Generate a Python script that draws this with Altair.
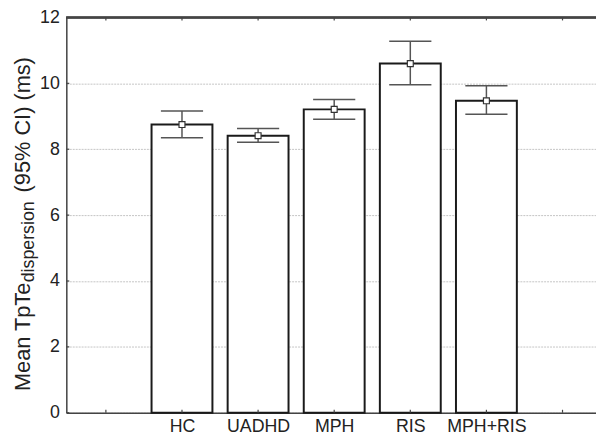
import altair as alt
import pandas as pd

# ---- data ----
groups = ["HC", "UADHD", "MPH", "RIS", "MPH+RIS"]
means = [8.75, 8.41, 9.21, 10.60, 9.47]
ci_low = [8.35, 8.21, 8.91, 9.96, 9.06]
ci_high = [9.16, 8.63, 9.51, 11.28, 9.93]
tick_labels = ["", "HC", "UADHD", "MPH", "RIS", "MPH+RIS", ""]
y_ticks = [0, 2, 4, 6, 8, 10, 12]

df = pd.DataFrame({
    "group": groups,
    "slot": list(range(1, len(groups) + 1)),
    "mean": means,
    "lo": ci_low,
    "hi": ci_high,
})
xt = pd.DataFrame({"t": [i + 0.5 for i in range(len(tick_labels))]})
yt = pd.DataFrame({"v": y_ticks})

W, H = 536, 400
FONT = "Liberation Sans"
label_arr = "[" + ",".join("'%s'" % s for s in tick_labels) + "]"

xscale = alt.Scale(domain=[-0.02, 6.94], nice=False, zero=False)
yscale = alt.Scale(domain=[0, 12], nice=False)

base = alt.Chart(df).transform_calculate(
    c="datum.slot + 0.5",
    b0="datum.slot + 0.5 - 0.40",
    b1="datum.slot + 0.5 + 0.40",
    k0="datum.slot + 0.5 - 0.277",
    k1="datum.slot + 0.5 + 0.277",
)

bars = base.mark_bar(fill="white", stroke="#1a1a1a", strokeWidth=2).encode(
    x=alt.X("b0:Q", scale=xscale,
            axis=alt.Axis(values=xt["t"].tolist(), labelExpr=label_arr + "[floor(datum.value)]",
                          title=None, ticks=False, grid=False, labelPadding=5,
                          labelFontSize=18, labelFont=FONT, labelColor="#222",
                          domainColor="#444", domainWidth=1.5)),
    x2="b1:Q",
    y=alt.Y("mean:Q", scale=yscale,
            axis=alt.Axis(values=y_ticks, title=None, ticks=False, grid=True,
                          gridColor="#c4c4c4", gridDash=[2, 1], gridWidth=1,
                          labelPadding=7, labelFontSize=18, labelFont=FONT,
                          labelColor="#222", domainColor="#444", domainWidth=1.5)),
    y2=alt.datum(0),
)

err = base.mark_rule(color="#555", strokeWidth=1.5).encode(
    x="c:Q", y="lo:Q", y2="hi:Q")
cap_hi = base.mark_rule(color="#555", strokeWidth=1.5).encode(
    x="k0:Q", x2="k1:Q", y="hi:Q")
cap_lo = base.mark_rule(color="#555", strokeWidth=1.5).encode(
    x="k0:Q", x2="k1:Q", y="lo:Q")
pts = base.mark_point(shape="square", filled=True, fill="white", stroke="#333",
                      strokeWidth=1.2, size=36, opacity=1).encode(
    x="c:Q", y="mean:Q")

top_line = alt.Chart(yt).mark_rule(color="#444", strokeWidth=1.5).encode(
    x=alt.value(0), x2=alt.value(W), y=alt.datum(12))

xt_bot = alt.Chart(xt).mark_rule(color="#444", strokeWidth=1.2).encode(
    x="t:Q", y=alt.value(H), y2=alt.value(H - 3))
xt_top = alt.Chart(xt).mark_rule(color="#444", strokeWidth=1.2).encode(
    x="t:Q", y=alt.value(0), y2=alt.value(3))
yt_left = alt.Chart(yt).mark_rule(color="#444", strokeWidth=1.2).encode(
    y="v:Q", x=alt.value(0), x2=alt.value(3))

title_main1 = alt.Chart(yt).mark_text(
    text="Mean TpTe", angle=270, align="left", baseline="alphabetic",
    font=FONT, fontSize=22, color="#222").encode(x=alt.value(-37), y=alt.value(378))
title_sub = alt.Chart(yt).mark_text(
    text="dispersion", angle=270, align="left", baseline="alphabetic",
    font=FONT, fontSize=18, color="#222").encode(x=alt.value(-33), y=alt.value(268))
title_main2 = alt.Chart(yt).mark_text(
    text="(95% CI) (ms)", angle=270, align="left", baseline="alphabetic",
    font=FONT, fontSize=22, color="#222").encode(x=alt.value(-37), y=alt.value(177))

chart = alt.layer(
    bars, err, cap_hi, cap_lo, pts, top_line, xt_bot, xt_top, yt_left,
    title_main1.transform_filter("datum.v == 0"),
    title_sub.transform_filter("datum.v == 0"),
    title_main2.transform_filter("datum.v == 0"),
).properties(
    width=W, height=H,
    autosize=alt.AutoSizeParams(type="none"),
    padding={"left": 59, "top": 7, "right": 0, "bottom": 25},
).configure_view(stroke=None).configure(background="white")

chart.save("out.html", embed_options={"renderer": "svg", "actions": False})
